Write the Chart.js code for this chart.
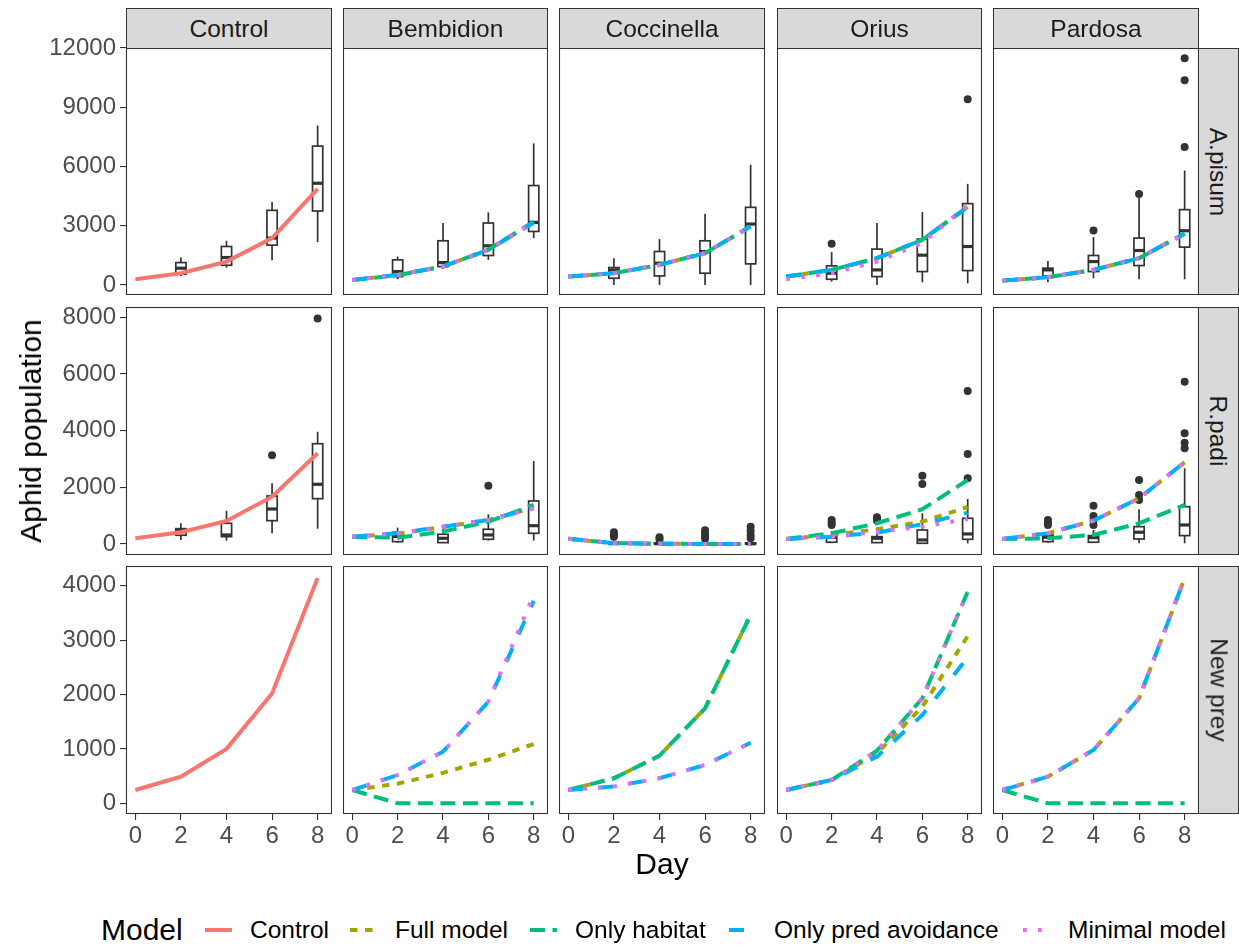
<!DOCTYPE html>
<html>
<head>
<meta charset="utf-8">
<script src="https://cdn.jsdelivr.net/npm/chart.js@4.4.1/dist/chart.umd.min.js"></script>
<style>
  body { margin: 0; background: #fff; font-family: "Liberation Sans", Arial, sans-serif; }
  #page { position: relative; width: 1239px; height: 945px; overflow: hidden; background: #fff; }
  #page canvas { position: absolute; }
  .strip { position: absolute; background: #d9d9d9; border: 1.1px solid #333; box-sizing: border-box;
           color: #1a1a1a; font-size: 24.5px; display: flex; align-items: center; justify-content: center; }
  .strip.right span { transform: rotate(90deg); white-space: nowrap; }
  .title { position: absolute; font-size: 30px; color: #000; white-space: nowrap; }
  .leg { position: absolute; top: 930px; transform: translateY(-50%); white-space: nowrap; color: #000; }
  .leg.ltitle { font-size: 30px; }
  .leg.label { font-size: 24.5px; }
  .leg svg { display: block; }
</style>
</head>
<body>
<div id="page"></div>
<script>
// ---- data ----
const days = [0, 2, 4, 6, 8];
const boxDays = [2, 4, 6, 8];
const predators = ["Control", "Bembidion", "Coccinella", "Orius", "Pardosa"];
const preys = ["A.pisum", "R.padi", "New prey"];
const models = ["Control", "Full model", "Only habitat", "Only pred avoidance", "Minimal model"];
const xTicks = [0, 2, 4, 6, 8];
const yTicksApisum = [0, 3000, 6000, 9000, 12000];
const yTicksRpadi = [0, 2000, 4000, 6000, 8000];
const yTicksNewPrey = [0, 1000, 2000, 3000, 4000];

// model predictions; the 4-element lists are Bembidion, Coccinella, Orius, Pardosa
const apisumControl = [290, 595, 1185, 2375, 4870];
const apisumFull = [[254, 508, 932, 1780, 3168], [424, 595, 1017, 1610, 2966], [424, 763, 1356, 2288, 3950], [220, 390, 763, 1356, 2600]];
const apisumHabitat = [[245, 495, 930, 1790, 3200], [424, 595, 1017, 1610, 2966], [424, 763, 1356, 2288, 3950], [220, 390, 763, 1356, 2600]];
const apisumPred = [[258, 512, 935, 1775, 3150], [424, 595, 1017, 1610, 2966], [424, 763, 1356, 2288, 3950], [220, 390, 763, 1356, 2600]];
const apisumMinimal = [[254, 508, 932, 1780, 3168], [424, 595, 1017, 1610, 2966], [290, 595, 1185, 2120, 4050], [220, 390, 763, 1356, 2600]];

const rpadiControl = [200, 413, 811, 1668, 3199];
const rpadiFull = [[255, 360, 600, 840, 1280], [180, 30, 5, 0, 0], [176, 317, 518, 787, 1305], [176, 377, 822, 1611, 2881]];
const rpadiHabitat = [[250, 222, 434, 787, 1376], [180, 30, 5, 0, 0], [176, 377, 730, 1224, 2257], [176, 200, 317, 730, 1376]];
const rpadiPred = [[258, 377, 610, 846, 1259], [180, 30, 5, 0, 0], [176, 258, 399, 695, 1104], [176, 377, 822, 1611, 2881]];
const rpadiMinimal = [[258, 377, 610, 846, 1259], [180, 30, 5, 0, 0], [176, 258, 422, 610, 882], [176, 377, 822, 1611, 2881]];

const newpreyControl = [245, 490, 1000, 2020, 4140];
const newpreyFull = [[244, 360, 560, 800, 1090], [244, 460, 875, 1746, 3461], [244, 428, 919, 1776, 3075], [244, 489, 980, 1930, 4136]];
const newpreyHabitat = [[244, 0, 0, 0, 0], [244, 460, 875, 1746, 3461], [244, 428, 967, 1930, 3889], [244, 0, 0, 0, 0]];
const newpreyPred = [[244, 520, 948, 1867, 3720], [244, 310, 460, 704, 1114], [244, 428, 857, 1623, 2683], [244, 489, 980, 1930, 4136]];
const newpreyMinimal = [[244, 520, 948, 1867, 3830], [244, 310, 460, 704, 1114], [244, 428, 967, 1930, 3889], [244, 489, 980, 1930, 4136]];

// observed counts per day 2,4,6,8: [lower whisker, q1, median, q3, upper whisker]; one list per predator
const apisumBoxes = [
  [[458, 544, 849, 1134, 1390], [880, 1000, 1390, 1948, 2237], [1256, 2019, 2375, 3780, 4205], [2170, 3745, 5150, 7033, 8070]],
  [[290, 424, 678, 1271, 1441], [900, 932, 1135, 2237, 3137], [1271, 1492, 1983, 3137, 3678], [2375, 2710, 3168, 5034, 7170]],
  [[0, 340, 763, 881, 1356], [0, 458, 1102, 1695, 2324], [0, 595, 1695, 2237, 3610], [0, 1068, 3085, 3932, 6087]],
  [[168, 290, 595, 966, 1663], [0, 424, 763, 1815, 3137], [136, 678, 1509, 2324, 3695], [85, 729, 1948, 4119, 5120]],
  [[136, 458, 763, 849, 1220], [340, 678, 1185, 1492, 2425], [290, 983, 1745, 2375, 4400], [290, 1917, 2746, 3814, 5797]]
];
const rpadiBoxes = [
  [[141, 307, 469, 540, 730], [118, 258, 317, 730, 1175], [377, 822, 1234, 1693, 2141], [540, 1598, 2106, 3538, 3961]],
  [[40, 81, 265, 413, 575], [40, 47, 200, 341, 575], [120, 165, 317, 518, 1047], [118, 377, 645, 1517, 2927]],
  [[0, 0, 10, 60, 120], [0, 0, 5, 40, 100], [0, 0, 5, 40, 100], [0, 0, 5, 40, 100]],
  [[30, 60, 236, 282, 458], [30, 47, 200, 258, 518], [20, 24, 141, 494, 1082], [20, 165, 353, 905, 1587]],
  [[40, 81, 236, 317, 377], [40, 60, 224, 294, 494], [24, 176, 413, 610, 1224], [24, 294, 670, 1316, 2670]]
];
const newpreyBoxes = [[], [], [], [], []];

// outliers as [day, count]; one list per predator
const apisumOutliers = [
  [], [], [],
  [[2, 2085], [8, 9407]],
  [[4, 2763], [6, 4612], [8, 6982], [8, 10373], [8, 11476]]
];
const rpadiOutliers = [
  [[6, 3128], [8, 7960]],
  [[6, 2056]],
  [[2, 410], [2, 330], [2, 250], [4, 236], [4, 160], [6, 480], [6, 380], [6, 282], [6, 180], [8, 610], [8, 460], [8, 320], [8, 200]],
  [[2, 846], [2, 760], [2, 670], [4, 941], [4, 880], [4, 822], [6, 2409], [6, 2116], [8, 5396], [8, 3174], [8, 2317]],
  [[2, 846], [2, 760], [2, 670], [4, 1351], [4, 988], [4, 846], [4, 670], [6, 2257], [6, 1728], [6, 1552], [8, 5725], [8, 3904], [8, 3573], [8, 3375]]
];
const newpreyOutliers = [[], [], [], [], []];

// ---- styling ----
const modelColors = ["#F8766D", "#A3A500", "#00BF7D", "#00B0F6", "#E76BF3"];
const dashUnit = 3.75;
const modelDash = [[], [2, 2], [4, 2], [4, 4], [1, 3]].map(d => d.map(v => v * dashUnit));
const font = "'Liberation Sans', Arial, Helvetica, sans-serif";

const rows = [
  { ticks: yTicksApisum, range: [-508, 12000], control: apisumControl, series: [apisumFull, apisumHabitat, apisumPred, apisumMinimal], boxes: apisumBoxes, outliers: apisumOutliers },
  { ticks: yTicksRpadi, range: [-390, 8363], control: rpadiControl, series: [rpadiFull, rpadiHabitat, rpadiPred, rpadiMinimal], boxes: rpadiBoxes, outliers: rpadiOutliers },
  { ticks: yTicksNewPrey, range: [-197, 4362], control: newpreyControl, series: [newpreyFull, newpreyHabitat, newpreyPred, newpreyMinimal], boxes: newpreyBoxes, outliers: newpreyOutliers }
];

const colLeft = [126, 343, 559, 777, 993];
const colWidth = [206, 205, 206, 205, 206];
const rowTop = [48, 307, 566];
const rowHeight = [247, 248, 248];
const yAxisW = 126, xAxisH = 36, labelRoom = 16;

// boxplots (and their outliers) are drawn under the model lines, like the ggplot layer order
const boxPlugin = {
  id: "boxes",
  beforeDatasetsDraw(chart, args, opts) {
    const { ctx, chartArea: a, scales: { x, y } } = chart;
    ctx.save();
    ctx.beginPath();
    ctx.rect(a.left, a.top, a.right - a.left, a.bottom - a.top);
    ctx.clip();
    ctx.strokeStyle = "#333333";
    const seg = (x1, y1, x2, y2) => { ctx.beginPath(); ctx.moveTo(x1, y1); ctx.lineTo(x2, y2); ctx.stroke(); };
    opts.boxes.forEach((b, i) => {
      const d = boxDays[i];
      const cx = x.getPixelForValue(d);
      const half = x.getPixelForValue(d + 0.225) - cx;
      const [lo, q1, med, q3, hi] = b.map(v => y.getPixelForValue(v));
      ctx.lineWidth = 1.7;
      seg(cx, hi, cx, q3);
      seg(cx, q1, cx, lo);
      ctx.fillStyle = "#ffffff";
      ctx.fillRect(cx - half, q3, 2 * half, q1 - q3);
      ctx.strokeRect(cx - half, q3, 2 * half, q1 - q3);
      ctx.lineWidth = 3.2;
      seg(cx - half, med, cx + half, med);
    });
    ctx.fillStyle = "#333333";
    opts.outliers.forEach(([d, v]) => {
      ctx.beginPath();
      ctx.arc(x.getPixelForValue(d), y.getPixelForValue(v), 4, 0, Math.PI * 2);
      ctx.fill();
    });
    ctx.restore();
  },
  afterDraw(chart) {
    const { ctx, chartArea: a } = chart;
    ctx.save();
    ctx.strokeStyle = "#333333";
    ctx.lineWidth = 1.1;
    ctx.strokeRect(a.left + 0.5, a.top + 0.5, a.right - a.left - 1, a.bottom - a.top - 1);
    ctx.restore();
  }
};

const page = document.getElementById("page");

// later models are painted on top (Minimal model last), as in the reference
function lineSet(label, values, m) {
  return {
    label: label,
    data: days.map((d, i) => ({ x: d, y: values[i] })),
    order: models.length - m,
    borderColor: modelColors[m],
    borderWidth: 4,
    borderDash: modelDash[m],
    borderCapStyle: "butt",
    pointRadius: 0,
    tension: 0,
    fill: false
  };
}

rows.forEach((row, r) => {
  predators.forEach((pred, c) => {
    const showY = c === 0, showX = r === rows.length - 1;
    const padTop = showY ? labelRoom : 0;
    const canvas = document.createElement("canvas");
    const w = colWidth[c] + (showY ? yAxisW : 0);
    const h = rowHeight[r] + padTop + (showX ? xAxisH : 0);
    canvas.width = w; canvas.height = h;
    canvas.style.left = (colLeft[c] - (showY ? yAxisW : 0)) + "px";
    canvas.style.top = (rowTop[r] - padTop) + "px";
    canvas.style.width = w + "px"; canvas.style.height = h + "px";
    page.appendChild(canvas);

    const datasets = c === 0
      ? [lineSet(models[0], row.control, 0)]
      : row.series.map((s, k) => lineSet(models[k + 1], s[c - 1], k + 1));

    new Chart(canvas, {
      type: "line",
      data: { datasets },
      plugins: [boxPlugin],
      options: {
        responsive: false,
        animation: false,
        devicePixelRatio: 1,
        layout: { padding: { top: padTop, left: 0, right: 0, bottom: 0 } },
        plugins: {
          legend: { display: false },
          tooltip: { enabled: false },
          boxes: { boxes: row.boxes[c], outliers: row.outliers[c] }
        },
        scales: {
          x: {
            type: "linear", min: -0.41, max: 8.63, display: showX,
            afterBuildTicks: s => { s.ticks = xTicks.map(v => ({ value: v })); },
            afterFit: s => { if (showX) s.height = xAxisH; s.paddingLeft = 0; s.paddingRight = 0; },
            grid: { drawOnChartArea: false, drawTicks: true, tickLength: 6, color: "#333333", lineWidth: 1.1 },
            border: { display: false },
            ticks: { color: "#4d4d4d", font: { family: font, size: 24 }, padding: 2, maxRotation: 0, autoSkip: false }
          },
          y: {
            type: "linear", min: row.range[0], max: row.range[1], display: showY,
            afterBuildTicks: s => { s.ticks = row.ticks.map(v => ({ value: v })); },
            afterFit: s => { if (showY) s.width = yAxisW; s.paddingTop = 0; s.paddingBottom = 0; },
            grid: { drawOnChartArea: false, drawTicks: true, tickLength: 6, color: "#333333", lineWidth: 1.1 },
            border: { display: false },
            ticks: { color: "#4d4d4d", font: { family: font, size: 24 }, padding: 4, autoSkip: false, callback: v => String(v) }
          }
        }
      }
    });
  });
});

// facet strips
predators.forEach((p, c) => {
  const s = document.createElement("div");
  s.className = "strip";
  s.style.left = colLeft[c] + "px"; s.style.top = "8px";
  s.style.width = colWidth[c] + "px"; s.style.height = "41px";
  s.textContent = p;
  page.appendChild(s);
});
preys.forEach((p, r) => {
  const s = document.createElement("div");
  s.className = "strip right";
  s.style.left = "1198px"; s.style.top = rowTop[r] + "px";
  s.style.width = "41px"; s.style.height = rowHeight[r] + "px";
  const t = document.createElement("span");
  t.textContent = p;
  s.appendChild(t);
  page.appendChild(s);
});

// axis titles
const yt = document.createElement("div");
yt.className = "title";
yt.textContent = "Aphid population";
yt.style.left = "31px"; yt.style.top = "431px";
yt.style.transform = "translate(-50%, -50%) rotate(-90deg)";
page.appendChild(yt);
const xt = document.createElement("div");
xt.className = "title";
xt.textContent = "Day";
xt.style.left = "662px"; xt.style.top = "864px";
xt.style.transform = "translate(-50%, -50%)";
page.appendChild(xt);

// legend
const legendLabelLeft = [250, 395, 575, 774, 1068];
function legendPart(cls, left, html) {
  const el = document.createElement("div");
  el.className = "leg " + cls;
  el.style.left = left + "px";
  el.innerHTML = html;
  page.appendChild(el);
}
legendPart("ltitle", 101, "Model");
models.forEach((m, i) => {
  const dash = modelDash[i].length ? modelDash[i].join(" ") : "none";
  legendPart("key", legendLabelLeft[i] - 45,
    '<svg width="27" height="20"><line x1="0" y1="10" x2="27" y2="10" stroke="' + modelColors[i] +
    '" stroke-width="4" stroke-dasharray="' + dash + '"/></svg>');
  legendPart("label", legendLabelLeft[i], m);
});
</script>
</body>
</html>
